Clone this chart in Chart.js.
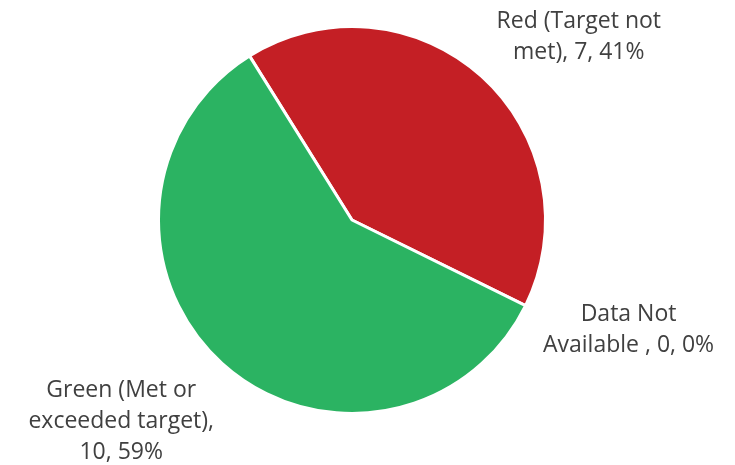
<!DOCTYPE html>
<html>
<head>
<meta charset="utf-8">
<script src="https://cdn.jsdelivr.net/npm/chart.js@4"></script>
<style>
  html, body { margin: 0; padding: 0; background: #ffffff; }
  #wrap { width: 735px; height: 465px; position: relative; }
</style>
</head>
<body>
<div id="wrap"><canvas id="pie-chart"></canvas></div>
<script>
// Slices, in drawing order (clockwise from the red/green border)
const categories = ['Red (Target not met)', 'Data Not Available ', 'Green (Met or exceeded target)'];
const counts = [7, 0, 10];
const percents = ['41%', '0%', '59%'];
const sliceColors = ['#C41F25', '#A5A5A5', '#2BB362'];

// label text split into lines, like the data labels in the picture
const labelLines = [
    ['Red (Target not', 'met), 7, 41%'],
    ['Data Not', 'Available , 0, 0%'],
    ['Green (Met or', 'exceeded target),', '10, 59%']
];

// Draw the outside labels next to each slice
const outsideLabels = {
    id: 'outsideLabels',
    afterDatasetsDraw(chart, args, opts) {
        const ctx = chart.ctx;
        const meta = chart.getDatasetMeta(0);
        ctx.save();
        ctx.font = opts.font;
        ctx.fillStyle = opts.color;
        ctx.textAlign = 'center';
        ctx.textBaseline = 'middle';
        meta.data.forEach((arc, i) => {
            const p = arc.getProps(['x', 'y', 'startAngle', 'endAngle', 'outerRadius'], true);
            const mid = (p.startAngle + p.endAngle) / 2;
            const ax = p.x + Math.cos(mid) * p.outerRadius + opts.offsets[i][0];
            const ay = p.y + Math.sin(mid) * p.outerRadius + opts.offsets[i][1];
            const lines = labelLines[i];
            const top = ay - (lines.length - 1) * opts.lineHeight / 2;
            lines.forEach((t, j) => ctx.fillText(t, ax, top + j * opts.lineHeight));
        });
        ctx.restore();
    }
};

var ctx = document.getElementById('pie-chart').getContext('2d');
var pieChart = new Chart(ctx, {
    type: 'pie',
    data: {
        labels: categories,
        datasets: [{
            data: counts,
            backgroundColor: sliceColors,
            borderColor: '#ffffff',
            borderWidth: 3
        }]
    },
    options: {
        responsive: true,
        maintainAspectRatio: false,
        animation: false,
        rotation: -32,
        layout: {
            padding: { top: 25, bottom: 50, left: 157, right: 188 }
        },
        plugins: {
            legend: { display: false },
            tooltip: { enabled: false },
            outsideLabels: {
                font: '23px "Open Sans"',
                color: '#404040',
                lineHeight: 31,
                offsets: [[97, -40], [103, 24], [-101, 58]]
            }
        }
    },
    plugins: [outsideLabels]
});
</script>
</body>
</html>
